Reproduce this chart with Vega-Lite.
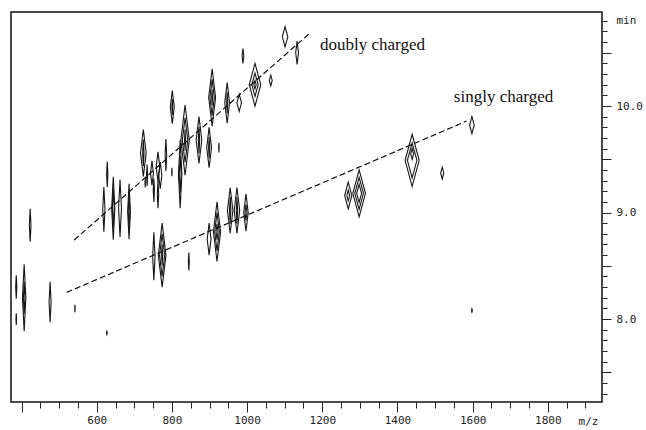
{
  "$schema": "https://vega.github.io/schema/vega-lite/v6.json",
  "width": 591,
  "height": 390,
  "autosize": "none",
  "padding": {"left": 11, "top": 12, "right": 44, "bottom": 28},
  "background": "white",
  "config": {
    "view": {"stroke": "#111", "strokeWidth": 1.5},
    "axis": {"labelFont": "DejaVu Sans Mono", "labelFontSize": 11, "labelColor": "#222", "tickColor": "#222", "titleFont": "DejaVu Sans Mono", "titleFontSize": 11, "titleFontWeight": "normal", "titleColor": "#222", "grid": false, "domain": false}
  },
  "datasets": {
    "spots": [
      {"mz":1101,"rt":10.65,"span":0.19,"form":"d"},
      {"mz":1133,"rt":10.50,"span":0.22,"form":"n"},
      {"mz":989,"rt":10.47,"span":0.14,"form":"n"},
      {"mz":1021,"rt":10.20,"span":0.40,"form":"d"},
      {"mz":1021,"rt":10.20,"span":0.22,"form":"d"},
      {"mz":1021,"rt":10.20,"span":0.08,"form":"d"},
      {"mz":1063,"rt":10.24,"span":0.10,"form":"d"},
      {"mz":979,"rt":10.03,"span":0.16,"form":"d"},
      {"mz":947,"rt":10.03,"span":0.38,"form":"n"},
      {"mz":947,"rt":10.03,"span":0.20,"form":"s"},
      {"mz":907,"rt":10.08,"span":0.54,"form":"n"},
      {"mz":907,"rt":10.08,"span":0.34,"form":"n"},
      {"mz":907,"rt":10.08,"span":0.15,"form":"s"},
      {"mz":899,"rt":9.61,"span":0.38,"form":"n"},
      {"mz":899,"rt":9.61,"span":0.20,"form":"s"},
      {"mz":872,"rt":9.68,"span":0.44,"form":"n"},
      {"mz":872,"rt":9.68,"span":0.25,"form":"s"},
      {"mz":925,"rt":9.61,"span":0.09,"form":"s"},
      {"mz":801,"rt":9.99,"span":0.31,"form":"n"},
      {"mz":801,"rt":9.99,"span":0.15,"form":"s"},
      {"mz":835,"rt":9.68,"span":0.66,"form":"n"},
      {"mz":835,"rt":9.68,"span":0.42,"form":"n"},
      {"mz":835,"rt":9.68,"span":0.20,"form":"s"},
      {"mz":822,"rt":9.36,"span":0.64,"form":"s"},
      {"mz":822,"rt":9.36,"span":0.35,"form":"s"},
      {"mz":784,"rt":9.54,"span":0.30,"form":"s"},
      {"mz":800,"rt":9.38,"span":0.08,"form":"s"},
      {"mz":724,"rt":9.56,"span":0.44,"form":"n"},
      {"mz":724,"rt":9.56,"span":0.25,"form":"s"},
      {"mz":734,"rt":9.35,"span":0.20,"form":"s"},
      {"mz":747,"rt":9.37,"span":0.23,"form":"n"},
      {"mz":763,"rt":9.43,"span":0.28,"form":"n"},
      {"mz":769,"rt":9.35,"span":0.25,"form":"n"},
      {"mz":752,"rt":9.21,"span":0.22,"form":"s"},
      {"mz":763,"rt":9.17,"span":0.26,"form":"s"},
      {"mz":729,"rt":9.28,"span":0.09,"form":"s"},
      {"mz":628,"rt":9.36,"span":0.24,"form":"s"},
      {"mz":619,"rt":9.03,"span":0.42,"form":"s"},
      {"mz":644,"rt":9.04,"span":0.59,"form":"s"},
      {"mz":644,"rt":9.04,"span":0.35,"form":"s"},
      {"mz":662,"rt":9.04,"span":0.54,"form":"s"},
      {"mz":686,"rt":9.01,"span":0.52,"form":"s"},
      {"mz":686,"rt":9.01,"span":0.30,"form":"s"},
      {"mz":752,"rt":8.59,"span":0.45,"form":"s"},
      {"mz":774,"rt":8.60,"span":0.60,"form":"n"},
      {"mz":774,"rt":8.60,"span":0.40,"form":"n"},
      {"mz":774,"rt":8.60,"span":0.20,"form":"s"},
      {"mz":845,"rt":8.54,"span":0.17,"form":"s"},
      {"mz":899,"rt":8.75,"span":0.30,"form":"n"},
      {"mz":920,"rt":8.82,"span":0.56,"form":"n"},
      {"mz":920,"rt":8.82,"span":0.36,"form":"n"},
      {"mz":920,"rt":8.82,"span":0.15,"form":"n"},
      {"mz":955,"rt":9.02,"span":0.43,"form":"n"},
      {"mz":955,"rt":9.02,"span":0.25,"form":"s"},
      {"mz":973,"rt":9.02,"span":0.43,"form":"n"},
      {"mz":973,"rt":9.02,"span":0.25,"form":"s"},
      {"mz":997,"rt":9.00,"span":0.35,"form":"n"},
      {"mz":997,"rt":9.00,"span":0.15,"form":"n"},
      {"mz":1269,"rt":9.16,"span":0.25,"form":"d"},
      {"mz":1269,"rt":9.16,"span":0.10,"form":"d"},
      {"mz":1298,"rt":9.18,"span":0.44,"form":"d"},
      {"mz":1298,"rt":9.18,"span":0.30,"form":"d"},
      {"mz":1298,"rt":9.18,"span":0.17,"form":"d"},
      {"mz":1439,"rt":9.49,"span":0.49,"form":"d"},
      {"mz":1439,"rt":9.49,"span":0.33,"form":"d"},
      {"mz":1439,"rt":9.55,"span":0.10,"form":"d"},
      {"mz":1519,"rt":9.37,"span":0.11,"form":"d"},
      {"mz":1598,"rt":9.82,"span":0.16,"form":"d"},
      {"mz":1598,"rt":8.08,"span":0.03,"form":"d"},
      {"mz":423,"rt":8.88,"span":0.31,"form":"s"},
      {"mz":386,"rt":8.30,"span":0.22,"form":"s"},
      {"mz":386,"rt":8.00,"span":0.11,"form":"s"},
      {"mz":407,"rt":8.20,"span":0.63,"form":"s"},
      {"mz":407,"rt":8.20,"span":0.30,"form":"s"},
      {"mz":476,"rt":8.16,"span":0.38,"form":"s"},
      {"mz":542,"rt":8.10,"span":0.07,"form":"s"},
      {"mz":627,"rt":7.87,"span":0.03,"form":"d"}
    ],
    "trends": [
      {"series":"doubly","mz":540,"rt":8.742},
      {"series":"doubly","mz":1167,"rt":10.685},
      {"series":"singly","mz":520,"rt":8.25},
      {"series":"singly","mz":1584,"rt":9.859}
    ],
    "notes": [
      {"label":"doubly charged","mz":1194,"rt":10.573},
      {"label":"singly charged","mz":1550,"rt":10.085}
    ]
  },
  "layer": [
    {
      "data": {"name": "spots"},
      "mark": {"type": "point", "filled": false, "strokeWidth": 1.1, "opacity": 1},
      "encoding": {
        "x": {
          "field": "mz", "type": "quantitative",
          "scale": {"domain": [372, 1944], "nice": false, "zero": false},
          "axis": {
            "orient": "bottom",
            "values": [400,450,500,550,600,650,700,750,800,850,900,950,1000,1050,1100,1150,1200,1250,1300,1350,1400,1450,1500,1550,1600,1650,1700,1750,1800,1850,1900],
            "tickCount": 500,
            "labelExpr": "datum.value >= 600 && datum.value <= 1800 && datum.value % 200 === 0 ? datum.value : ''",
            "tickSize": {"condition": {"test": "datum.value % 200 === 0", "value": 10}, "value": 6},
            "labelPadding": 2,
            "labelOverlap": false,
            "labelFlush": false,
            "title": "m/z",
            "titleX": 577,
            "titleY": 19,
            "titleAlign": "center",
            "titleBaseline": "middle"
          }
        },
        "y": {
          "field": "rt", "type": "quantitative",
          "scale": {"domain": [7.221, 10.883], "nice": false, "zero": false},
          "axis": {
            "orient": "right",
            "values": [7.3,7.4,7.5,7.6,7.7,7.8,7.9,8.0,8.1,8.2,8.3,8.4,8.5,8.6,8.7,8.8,8.9,9.0,9.1,9.2,9.3,9.4,9.5,9.6,9.7,9.8,9.9,10.0,10.1,10.2,10.3,10.4,10.5,10.6,10.7,10.8],
            "tickCount": 500,
            "labelExpr": "abs(datum.value - round(datum.value)) < 0.01 ? format(datum.value, '.1f') : ''",
            "tickSize": {"condition": {"test": "abs(datum.value * 2 - round(datum.value * 2)) < 0.01", "value": 9}, "value": 5},
            "labelPadding": 5,
            "labelOverlap": false,
            "labelFlush": false,
            "title": "min",
            "titleAngle": 0,
            "titleX": 14,
            "titleY": 8,
            "titleAlign": "left",
            "titleBaseline": "middle"
          }
        },
        "shape": {
          "field": "form", "type": "nominal", "legend": null,
          "scale": {"domain": ["d", "n", "s"], "range": ["M0,-1L0.27,0L0,1L-0.27,0Z", "M0,-1L0.12,0L0,1L-0.12,0Z", "M0,-1L0.05,0L0,1L-0.05,0Z"]}
        },
        "size": {
          "field": "span", "type": "quantitative", "legend": null,
          "scale": {"type": "pow", "exponent": 2, "domain": [0, 1], "range": [0, 11342]}
        },
        "color": {"value": "#161616"}
      }
    },
    {
      "data": {"name": "trends"},
      "mark": {"type": "line", "strokeDash": [6, 3], "strokeWidth": 1.2, "color": "#111"},
      "encoding": {
        "x": {"field": "mz", "type": "quantitative"},
        "y": {"field": "rt", "type": "quantitative"},
        "detail": {"field": "series", "type": "nominal"}
      }
    },
    {
      "data": {"name": "notes"},
      "mark": {"type": "text", "align": "left", "baseline": "middle", "font": "Liberation Serif", "fontSize": 17, "color": "#111"},
      "encoding": {
        "x": {"field": "mz", "type": "quantitative"},
        "y": {"field": "rt", "type": "quantitative"},
        "text": {"field": "label", "type": "nominal"}
      }
    }
  ]
}
